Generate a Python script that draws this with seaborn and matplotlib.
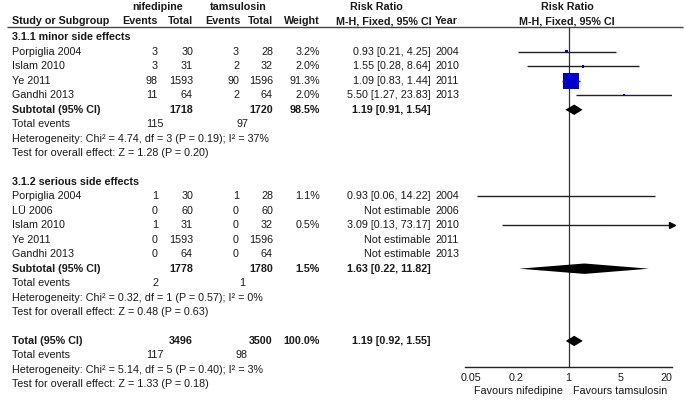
import numpy as np
import pandas as pd
import seaborn as sns
import matplotlib.pyplot as plt

# datos del forest plot
grupo1 = ["Porpiglia 2004", "Islam 2010", "Ye 2011", "Gandhi 2013"]
ev_nif1 = [3, 3, 98, 11]
tot_nif1 = [30, 31, 1593, 64]
ev_tam1 = [3, 2, 90, 2]
tot_tam1 = [28, 32, 1596, 64]
peso1 = [3.2, 2.0, 91.3, 2.0]
rr1 = [0.93, 1.55, 1.09, 5.50]
lo1 = [0.21, 0.28, 0.83, 1.27]
hi1 = [4.25, 8.64, 1.44, 23.83]
anio1 = [2004, 2010, 2011, 2013]

grupo2 = ["Porpiglia 2004", "LÜ 2006", "Islam 2010", "Ye 2011", "Gandhi 2013"]
ev_nif2 = [1, 0, 1, 0, 0]
tot_nif2 = [30, 60, 31, 1593, 64]
ev_tam2 = [1, 0, 0, 0, 0]
tot_tam2 = [28, 60, 32, 1596, 64]
peso2 = [1.1, np.nan, 0.5, np.nan, np.nan]
rr2 = [0.93, np.nan, 3.09, np.nan, np.nan]
lo2 = [0.06, np.nan, 0.13, np.nan, np.nan]
hi2 = [14.22, np.nan, 73.17, np.nan, np.nan]
anio2 = [2004, 2006, 2010, 2011, 2013]

# subtotales: total nif, total tam, peso, rr, lo, hi, eventos nif, eventos tam
sub1 = [1718, 1720, 98.5, 1.19, 0.91, 1.54, 115, 97]
sub2 = [1778, 1780, 1.5, 1.63, 0.22, 11.82, 2, 1]
total = [3496, 3500, 100.0, 1.19, 0.92, 1.55, 117, 98]
het1 = "Heterogeneity: Chi² = 4.74, df = 3 (P = 0.19); I² = 37%"
test1 = "Test for overall effect: Z = 1.28 (P = 0.20)"
het2 = "Heterogeneity: Chi² = 0.32, df = 1 (P = 0.57); I² = 0%"
test2 = "Test for overall effect: Z = 0.48 (P = 0.63)"
het3 = "Heterogeneity: Chi² = 5.14, df = 5 (P = 0.40); I² = 3%"
test3 = "Test for overall effect: Z = 1.33 (P = 0.18)"
ticks = [0.05, 0.2, 1, 5, 20]
tick_labels = ["0.05", "0.2", "1", "5", "20"]

sns.set_style("white")
plt.rcParams['font.family'] = ['Liberation Sans', 'DejaVu Sans']
fs = 7.75

W, H = 685, 400
y0, dy = 37.5, 14.45  # fila 0 y paso en pixeles
def fila(px):
    return (px - y0) / dy

fig = plt.figure(figsize=(W / 100, H / 100), dpi=100)
tx = fig.add_axes([0, 0, 1, 1])
tx.set_xlim(0, W)
tx.set_ylim(fila(H), fila(0))
tx.axis("off")

# columnas (pixeles)
c_est = 12
c_evn, c_totn, c_evt, c_tott, c_peso, c_ci, c_anio = 158, 193, 239, 273, 320, 431, 435

def t(x, y, s, ha="left", bold=False):
    tx.text(x, y, s, ha=ha, va="center", fontsize=fs,
            fontweight="bold" if bold else "normal", color="#1a1a1a")

# encabezados
yh1, yh2 = fila(7), fila(21)
t(158, yh1, "nifedipine", "center", True)
t(238, yh1, "tamsulosin", "center", True)
t(376, yh1, "Risk Ratio", "center", True)
t(567, yh1, "Risk Ratio", "center", True)
t(c_est, yh2, "Study or Subgroup", bold=True)
t(c_evn, yh2, "Events", "right", True)
t(c_totn, yh2, "Total", "right", True)
t(c_evt + 2, yh2, "Events", "right", True)
t(c_tott, yh2, "Total", "right", True)
t(c_peso, yh2, "Weight", "right", True)
t(c_ci + 1, yh2, "M-H, Fixed, 95% CI", "right", True)
t(c_anio, yh2, "Year", bold=True)
t(567, yh2, "M-H, Fixed, 95% CI", "center", True)
tx.hlines(fila(27), 7, 683, color="#444444", lw=1)

def bloque(r0, titulo, nombres, evn, totn, evt, tott, peso, rr, lo, hi, anio):
    t(c_est, r0, titulo, bold=True)
    for i, n in enumerate(nombres):
        r = r0 + 1 + i
        t(c_est, r, n)
        t(c_evn, r, str(evn[i]), "right")
        t(c_totn, r, str(totn[i]), "right")
        t(c_evt, r, str(evt[i]), "right")
        t(c_tott, r, str(tott[i]), "right")
        if np.isnan(rr[i]):
            t(c_ci, r, "Not estimable", "right")
        else:
            t(c_peso, r, f"{peso[i]:.1f}%", "right")
            t(c_ci, r, f"{rr[i]:.2f} [{lo[i]:.2f}, {hi[i]:.2f}]", "right")
        t(c_anio, r, str(anio[i]))

def resumen(r, titulo, s, het, test):
    t(c_est, r, titulo, bold=True)
    t(c_totn, r, str(s[0]), "right", True)
    t(c_tott, r, str(s[1]), "right", True)
    t(c_peso, r, f"{s[2]:.1f}%", "right", True)
    t(c_ci, r, f"{s[3]:.2f} [{s[4]:.2f}, {s[5]:.2f}]", "right", True)
    t(c_est, r + 1, "Total events")
    t(155, r + 1, str(s[6]), "center")
    t(242, r + 1, str(s[7]), "center")
    t(c_est, r + 2, het)
    t(c_est, r + 3, test)

bloque(0, "3.1.1 minor side effects", grupo1, ev_nif1, tot_nif1, ev_tam1, tot_tam1,
       peso1, rr1, lo1, hi1, anio1)
resumen(5, "Subtotal (95% CI)", sub1, het1, test1)
bloque(10, "3.1.2 serious side effects", grupo2, ev_nif2, tot_nif2, ev_tam2, tot_tam2,
       peso2, rr2, lo2, hi2, anio2)
resumen(16, "Subtotal (95% CI)", sub2, het2, test2)
resumen(21, "Total (95% CI)", total, het3, test3)

t(563, fila(391), "Favours nifedipine", "right")
t(573, fila(391), "Favours tamsulosin")

# panel del forest plot
xl, xr, yt, yb = 465, 672, 27, 367
ax = fig.add_axes([xl / W, 1 - yb / H, (xr - xl) / W, (yb - yt) / H])
ax.set_xscale("log")
xmin, xmax = 0.0416, 24.0
ax.set_xlim(xmin, xmax)
ax.set_ylim(fila(yb), fila(yt))
ax.patch.set_alpha(0)
for s in ["top", "left", "right"]:
    ax.spines[s].set_visible(False)
ax.spines["bottom"].set_color("#222222")
ax.spines["bottom"].set_linewidth(1)
ax.set_yticks([])
ax.set_xticks(ticks)
ax.set_xticklabels(tick_labels, fontsize=fs, color="#1a1a1a")
ax.minorticks_off()
ax.tick_params(axis="x", direction="inout", length=7, width=1, color="#222222", pad=1)
ax.axvline(1, color="#333333", lw=0.9, zorder=1)

filas = list(range(1, 5)) + list(range(11, 16))
df = pd.DataFrame({
    "fila": filas,
    "rr": rr1 + rr2,
    "lo": lo1 + lo2,
    "hi": hi1 + hi2,
    "peso": peso1 + peso2,
}).dropna()

for _, d in df.iterrows():
    fin = min(d["hi"], xmax)
    ax.hlines(d["fila"], d["lo"], fin, color="#222222", lw=1, zorder=2)
    if d["hi"] > xmax:
        ax.plot(xmax, d["fila"], marker=">", color="black", ms=4, clip_on=False, zorder=3)

k = 133 / 91.3
sns.scatterplot(data=df, x="rr", y="fila", size="peso", sizes=(k * df["peso"].min(), k * df["peso"].max()),
                size_norm=(df["peso"].min(), df["peso"].max()), marker="s", color="#0000C8",
                linewidth=0, legend=False, zorder=4, ax=ax)
ax.set_xlabel("")
ax.set_ylabel("")

for r, s in [(5, sub1), (16, sub2), (21, total)]:
    hh = 0.36
    ax.fill([s[4], s[3], s[5], s[3]], [r, r - hh, r, r + hh], color="black", lw=0, zorder=4)

fig.savefig("out.png", dpi=100)
